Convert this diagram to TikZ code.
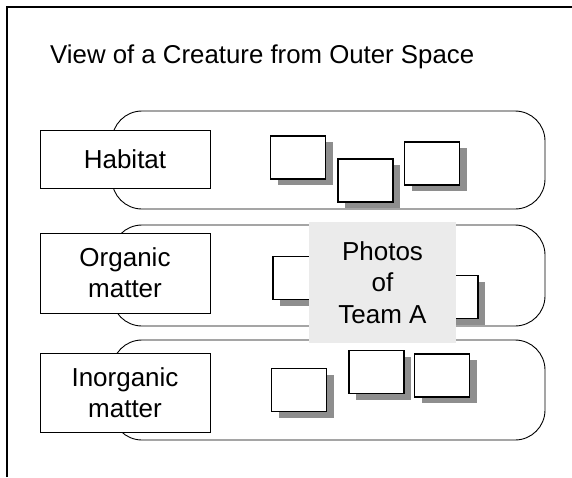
\documentclass[tikz,border=0pt]{standalone}
\usepackage{fontspec}
\setmainfont{Liberation Sans}
\usetikzlibrary{shadows}
\definecolor{shadowgray}{HTML}{8E8E8E}
\definecolor{photogray}{HTML}{EBEBEB}
\begin{document}
\begin{tikzpicture}[x=1pt,y=-1pt,
  band/.style={draw, line width=0.9pt, rounded corners=30pt, fill=white, inner sep=0pt},
  lbl/.style={draw, fill=white, line width=1pt, inner sep=0pt, align=center,
    minimum width=170pt, font=\fontsize{26}{31}\selectfont},
  picbox/.style={draw, fill=white, line width=1.3pt, inner sep=0pt,
    minimum width=55pt, minimum height=43pt,
    drop shadow={shadow xshift=7pt, shadow yshift=-6pt, fill=shadowgray, opacity=1}},
  photos/.style={fill=photogray, inner sep=0pt, minimum width=147pt, minimum height=121pt,
    align=center, font=\fontsize{26}{31.5}\selectfont},
  titletext/.style={font=\fontsize{25.8}{31}\selectfont, inner sep=0pt}
]
\useasboundingbox (0,0) rectangle (572,477);
\draw[line width=1.4pt] (7,477) -- (7,7) -- (572,7);
\node[titletext, anchor=base west] (title) at (50,63) {View of a Creature from Outer Space};
% bands
\node[band, minimum width=433pt, minimum height=98pt] (band1) at (328.5,160) {};
\node[band, minimum width=433pt, minimum height=101pt] (band2) at (328.5,275.5) {};
\node[band, minimum width=433pt, minimum height=100pt] (band3) at (328.5,390) {};
% labels
\node[lbl, minimum height=58pt] (habitat) at (125,159) {Habitat};
\node[lbl, minimum height=80pt] (organic) at (125,273) {Organic\\matter};
\node[lbl, minimum height=79pt] (inorganic) at (125,392.5) {Inorganic\\matter};
% picture boxes
\node[picbox] (p11) at (298,157.5) {};
\node[picbox] (p12) at (365.5,180.5) {};
\node[picbox] (p13) at (432,163.5) {};
\node[picbox] (p21) at (300.5,278) {};
\node[picbox] (p22) at (450.5,297) {};
\node[picbox] (p31) at (299,390) {};
\node[picbox] (p32) at (376.5,372) {};
\node[picbox] (p33) at (442,375.5) {};
% photos placeholder
\node[photos] (team) at (382.5,282.5) {Photos\\of\\Team A};
\end{tikzpicture}
\end{document}
